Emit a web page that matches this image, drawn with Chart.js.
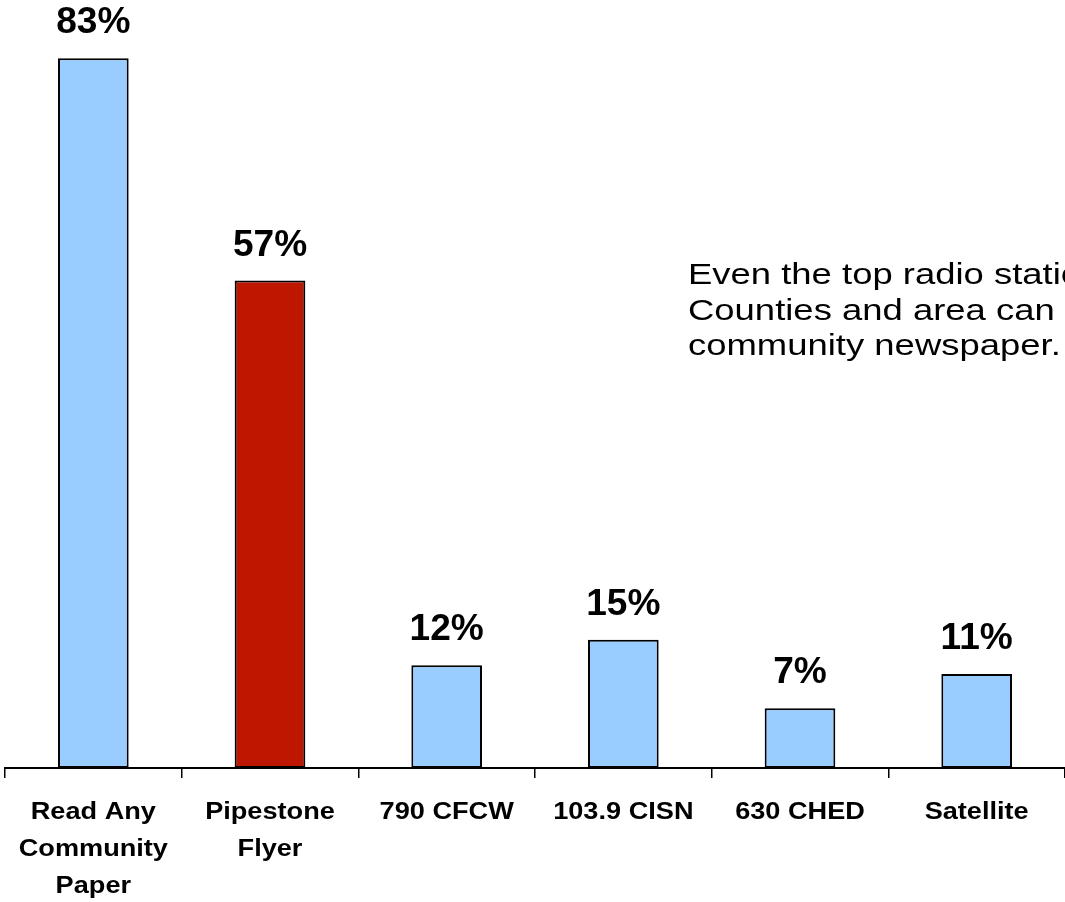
<!DOCTYPE html>
<html>
<head>
<meta charset="utf-8">
<script src="https://cdn.jsdelivr.net/npm/chart.js@4/dist/chart.umd.min.js"></script>
<style>
  html, body { margin: 0; padding: 0; background: #ffffff; overflow: hidden; }
  #wrap { width: 1065px; height: 902px; position: relative; }
</style>
</head>
<body>
<div id="wrap"><canvas id="c" width="1065" height="902"></canvas></div>
<script>
const categories = [
  ["Read Any", "Community", "Paper"],
  ["Pipestone", "Flyer"],
  "790 CFCW",
  "103.9 CISN",
  "630 CHED",
  "Satellite"
];
const values = [83, 57, 12, 15, 7, 11];
const barColors = ["#99CCFF", "#BF1600", "#99CCFF", "#99CCFF", "#99CCFF", "#99CCFF"];
const noteLines = [
  "Even the top radio station",
  "Counties and area can",
  "community newspaper."
];

const FONT = "'Liberation Sans', Arial, sans-serif";

const valueLabels = {
  id: 'valueLabels',
  afterDatasetsDraw(chart) {
    const ctx = chart.ctx;
    const meta = chart.getDatasetMeta(0);
    ctx.save();
    ctx.fillStyle = '#000';
    ctx.font = "bold 36px " + FONT;
    ctx.textAlign = 'center';
    ctx.textBaseline = 'alphabetic';
    meta.data.forEach((bar, i) => {
      ctx.save();
      ctx.translate(bar.x, bar.y - 25);
      ctx.scale(1.03, 1);
      ctx.fillText(values[i] + '%', 0, 0);
      ctx.restore();
    });
    ctx.restore();
  }
};

const catLabels = {
  id: 'catLabels',
  afterDraw(chart) {
    const ctx = chart.ctx;
    const xs = chart.scales.x;
    ctx.save();
    ctx.fillStyle = '#000';
    ctx.font = "bold 23px " + FONT;
    ctx.textAlign = 'center';
    ctx.textBaseline = 'alphabetic';
    categories.forEach((lab, i) => {
      const lines = Array.isArray(lab) ? lab : [lab];
      const x = xs.getPixelForValue(i);
      lines.forEach((t, j) => {
        ctx.save();
        ctx.translate(x, chart.chartArea.bottom + 51 + j * 37);
        ctx.scale(1.18, 1);
        ctx.fillText(t, 0, 0);
        ctx.restore();
      });
    });
    ctx.restore();
  }
};

const note = {
  id: 'note',
  afterDraw(chart) {
    const ctx = chart.ctx;
    ctx.save();
    ctx.fillStyle = '#000';
    ctx.font = "30px " + FONT;
    ctx.textAlign = 'left';
    ctx.textBaseline = 'alphabetic';
    noteLines.forEach((t, i) => {
      ctx.save();
      ctx.translate(688, 284 + i * 35.5);
      ctx.scale(1.215, 1);
      ctx.fillText(t, 0, 0);
      ctx.restore();
    });
    ctx.restore();
  }
};

new Chart(document.getElementById('c'), {
  type: 'bar',
  data: {
    labels: categories,
    datasets: [{
      data: values,
      backgroundColor: barColors,
      borderColor: '#000',
      borderWidth: 2,
      borderSkipped: false,
      barPercentage: 0.4,
      categoryPercentage: 1.0
    }]
  },
  options: {
    responsive: false,
    animation: false,
    devicePixelRatio: 1,
    layout: { padding: { left: 5, right: 0, top: 0, bottom: 0 } },
    plugins: {
      legend: { display: false },
      tooltip: { enabled: false },
      title: { display: false }
    },
    scales: {
      x: {
        offset: true,
        grid: {
          display: true,
          offset: true,
          drawOnChartArea: false,
          drawTicks: true,
          tickLength: 10,
          color: '#000',
          lineWidth: 1.5
        },
        border: { display: true, color: '#000', width: 2 },
        ticks: {
          color: 'rgba(0,0,0,0)',
          font: { family: FONT, size: 22, weight: 'bold', lineHeight: 1.68 },
          padding: 8,
          maxRotation: 0,
          autoSkip: false
        },
        afterFit(scale) { scale.height = 134; }
      },
      y: {
        display: false,
        min: 0,
        max: 89.8
      }
    }
  },
  plugins: [valueLabels, catLabels, note]
});
</script>
</body>
</html>
